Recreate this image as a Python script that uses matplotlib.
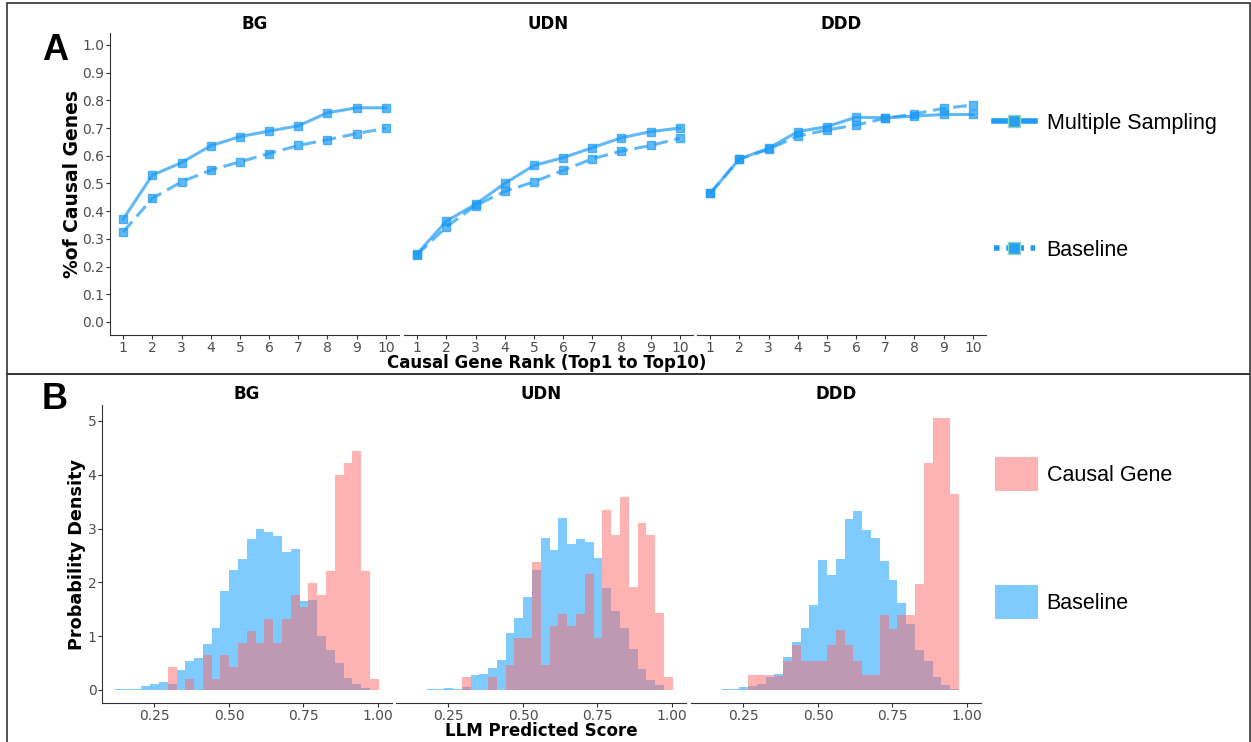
import numpy as np
import matplotlib
matplotlib.use("Agg")
import matplotlib.pyplot as plt
from matplotlib.lines import Line2D
from matplotlib.patches import Patch, Rectangle

# ---- data: panel A (top-k recall) ----
ranks = list(range(1, 11))
datasets = ["BG", "UDN", "DDD"]
ms_bg = [0.371, 0.530, 0.575, 0.636, 0.669, 0.689, 0.708, 0.755, 0.773, 0.773]
base_bg = [0.325, 0.446, 0.506, 0.548, 0.578, 0.608, 0.637, 0.658, 0.680, 0.699]
ms_udn = [0.246, 0.364, 0.425, 0.500, 0.565, 0.593, 0.629, 0.665, 0.687, 0.700]
base_udn = [0.243, 0.343, 0.420, 0.471, 0.506, 0.547, 0.589, 0.617, 0.637, 0.663]
ms_ddd = [0.464, 0.588, 0.627, 0.687, 0.705, 0.739, 0.737, 0.743, 0.749, 0.749]
base_ddd = [0.464, 0.588, 0.623, 0.671, 0.693, 0.711, 0.735, 0.751, 0.771, 0.783]

# ---- data: panel B (histogram densities, 30 shared bins) ----
bin_start = 0.1175
bin_width = 0.0295
causal_bg = [0, 0, 0, 0, 0, 0, 0.43, 0, 0.20, 0, 0.65, 0.20, 0.65, 0.43, 0.87,
             1.10, 0.87, 1.32, 0.87, 1.32, 1.76, 1.55, 1.98, 1.76, 2.21, 3.99, 4.21, 4.44, 2.21, 0.20]
basel_bg = [0.01, 0.01, 0.02, 0.07, 0.11, 0.15, 0.11, 0.38, 0.53, 0.59, 0.85, 1.16, 1.84, 2.23, 2.43,
            2.80, 2.99, 2.93, 2.86, 2.56, 2.62, 1.65, 1.67, 1.00, 0.74, 0.51, 0.22, 0.12, 0.03, 0]
causal_udn = [0, 0, 0, 0, 0, 0, 0.24, 0, 0, 0.24, 0, 0.46, 0.96, 0.96, 2.38,
              0.46, 1.19, 1.42, 1.19, 1.42, 2.15, 0.96, 3.35, 2.88, 3.59, 1.92, 3.11, 2.88, 1.44, 0.25]
basel_udn = [0, 0, 0.01, 0.02, 0.03, 0.01, 0.06, 0.28, 0.29, 0.40, 0.56, 1.06, 1.33, 1.73, 2.23,
             2.82, 2.61, 3.19, 2.71, 2.80, 2.75, 2.46, 1.89, 1.47, 1.16, 0.77, 0.39, 0.19, 0.09, 0]
causal_ddd = [0, 0, 0, 0, 0, 0.27, 0.27, 0.27, 0.26, 0.54, 0.84, 0.54, 0.54, 0.54, 0.84,
              1.11, 0.84, 0.54, 0.27, 0.27, 1.39, 1.13, 1.39, 1.39, 1.97, 4.22, 5.06, 5.06, 3.65, 0]
basel_ddd = [0, 0, 0.01, 0.01, 0.05, 0.08, 0.12, 0.25, 0.30, 0.61, 0.90, 1.16, 1.58, 2.41, 2.13,
             2.43, 3.17, 3.32, 2.97, 2.83, 2.39, 2.04, 1.62, 1.22, 0.74, 0.54, 0.25, 0.09, 0.01, 0]

ms_all = [ms_bg, ms_udn, ms_ddd]
base_all = [base_bg, base_udn, base_ddd]
causal_all = [causal_bg, causal_udn, causal_ddd]
basel_all = [basel_bg, basel_udn, basel_ddd]

W, H = 1251, 742
line_col = '#1E9BF5'
red = '#FF6666'
blue = '#0099FF'
tick_col = '#4D4D4D'

plt.rcParams['font.family'] = 'DejaVu Sans'
fig = plt.figure(figsize=(W / 100, H / 100), dpi=100)


def rect(x0, y0, x1, y1):
    return [x0 / W, 1 - y1 / H, (x1 - x0) / W, (y1 - y0) / H]


def style(ax, first):
    for s in ['top', 'right']:
        ax.spines[s].set_visible(False)
    ax.spines['bottom'].set_color('#333333')
    ax.spines['left'].set_color('#333333')
    ax.spines['left'].set_visible(first)
    ax.tick_params(colors='#333333', labelcolor=tick_col, labelsize=10, length=3, width=0.8, pad=1)
    if not first:
        ax.tick_params(axis='y', left=False, labelleft=False)
    ax.set_facecolor('none')


# ---- panel A ----
for i, x0 in enumerate([110, 404, 697]):
    ax = fig.add_axes(rect(x0, 33, x0 + 289, 335))
    ax.plot(ranks, ms_all[i], color=line_col, alpha=0.7, lw=2.2, marker='s', ms=6)
    ax.plot(ranks, base_all[i], color=line_col, alpha=0.7, lw=2.2, ls=(0, (4.5, 2.2)),
            marker='s', ms=6)
    ax.set_xlim(0.55, 10.45)
    ax.set_ylim(-0.047, 1.043)
    ax.set_xticks(ranks)
    ax.set_yticks(np.arange(0, 1.01, 0.1))
    ax.set_yticklabels(['%.1f' % v for v in np.arange(0, 1.01, 0.1)])
    style(ax, i == 0)
    ax.set_title(datasets[i], fontsize=12, fontweight='bold', pad=3)

fig.text(72 / W, 1 - 184 / H, '%of Causal Genes', rotation=90, ha='center', va='center',
         fontsize=13.5, fontweight='bold')
fig.text(547 / W, 1 - 363 / H, 'Causal Gene Rank (Top1 to Top10)', ha='center', va='center',
         fontsize=12, fontweight='bold')

# ---- panel B ----
edges = bin_start + bin_width * np.arange(31)
for i, x0 in enumerate([102, 396, 691]):
    ax = fig.add_axes(rect(x0, 405, x0 + 290, 703))
    ax.bar(edges[:-1], basel_all[i], width=bin_width, align='edge', color=blue, alpha=0.5, lw=0)
    ax.bar(edges[:-1], causal_all[i], width=bin_width, align='edge', color=red, alpha=0.5, lw=0)
    ax.set_xlim(0.074, 1.047)
    ax.set_ylim(-0.242, 5.297)
    ax.set_xticks([0.25, 0.5, 0.75, 1.0])
    ax.set_xticklabels(['0.25', '0.50', '0.75', '1.00'])
    ax.set_yticks(range(6))
    style(ax, i == 0)
    ax.set_title(datasets[i], fontsize=12, fontweight='bold', pad=4)

fig.text(77 / W, 1 - 554 / H, 'Probability Density', rotation=90, ha='center', va='center',
         fontsize=12.7, fontweight='bold')
fig.text(541 / W, 1 - 731 / H, 'LLM Predicted Score', ha='center', va='center',
         fontsize=12, fontweight='bold')

# ---- legends ----
leg_a = [Line2D([], [], color=line_col, lw=4, marker='s', ms=9, mfc='#2AA0F0', mec='#8FD8C0'),
         Line2D([], [], color=line_col, lw=4, ls=(0, (1, 1.2)), marker='s', ms=9,
                mfc='#2AA0F0', mec='#8FD8C0')]
for h, lab, yy in zip(leg_a, ['Multiple Sampling', 'Baseline'], [123, 250]):
    fig.legend(handles=[h], labels=[lab], loc='center left', bbox_to_anchor=(994 / W, 1 - yy / H),
               frameon=False, handlelength=1.9, handletextpad=0.55,
               borderpad=0, borderaxespad=0, prop={'family': 'Liberation Sans', 'size': 15.5})

leg_b = [Patch(facecolor=red, alpha=0.5, lw=0), Patch(facecolor=blue, alpha=0.5, lw=0)]
for h, lab, yy in zip(leg_b, ['Causal Gene', 'Baseline'], [474, 602]):
    fig.legend(handles=[h], labels=[lab], loc='center left', bbox_to_anchor=(995 / W, 1 - yy / H),
               frameon=False, handlelength=2.0, handleheight=2.0, handletextpad=0.4,
               borderpad=0, borderaxespad=0, prop={'family': 'Liberation Sans', 'size': 15.5})

# ---- panel letters and borders ----
fig.text(55 / W, 1 - 51 / H, 'A', ha='center', va='center', fontsize=26, fontweight='bold',
         family='Liberation Sans')
fig.text(55 / W, 1 - 400 / H, 'B', ha='center', va='center', fontsize=26, fontweight='bold',
         family='Liberation Sans')
fig.add_artist(Rectangle((7 / W, 1 - 374 / H), 1243 / W, 371 / H, transform=fig.transFigure,
                         fill=False, ec='#333333', lw=1.2))
fig.add_artist(Rectangle((7 / W, 1 - 750 / H), 1243 / W, 376 / H, transform=fig.transFigure,
                         fill=False, ec='#333333', lw=1.2))

fig.savefig('out.png', dpi=100)
